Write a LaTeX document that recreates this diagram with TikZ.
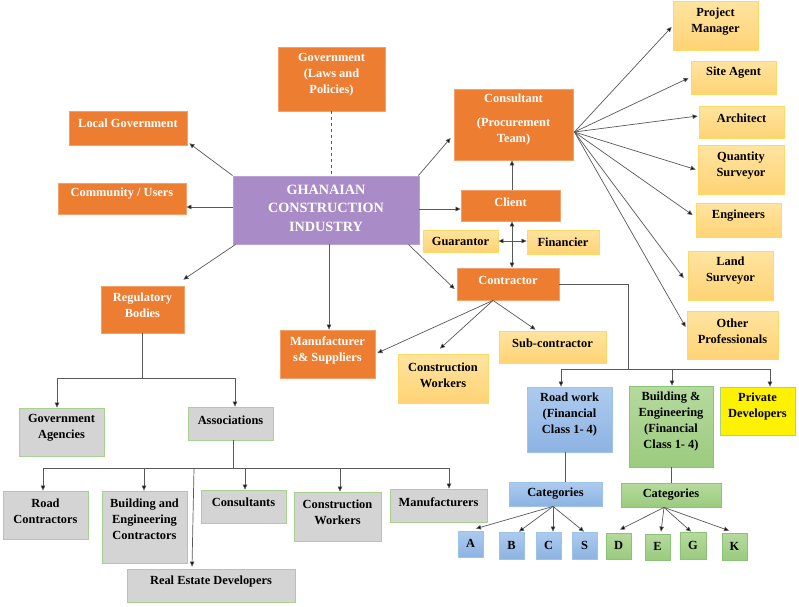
\documentclass[tikz,border=0pt]{standalone}
\usepackage{fontspec}
\setmainfont{Liberation Serif}
\usetikzlibrary{arrows.meta,fit,calc}
\definecolor{orfill}{HTML}{ED7D31}
\definecolor{ordraw}{HTML}{F4A06A}
\definecolor{ytop}{HTML}{FFE4A0}
\definecolor{ybot}{HTML}{FFD375}
\definecolor{ydraw}{HTML}{FFD966}
\definecolor{gfill}{HTML}{D4D4D4}
\definecolor{gdraw}{HTML}{A9D18E}
\definecolor{btop}{HTML}{ADCBEF}
\definecolor{bbot}{HTML}{8DB3E2}
\definecolor{bdraw}{HTML}{9DC3E6}
\definecolor{ntop}{HTML}{B6DA9E}
\definecolor{nbot}{HTML}{9BCB7E}
\definecolor{ndraw}{HTML}{8CC17A}
\definecolor{purp}{HTML}{A88BC7}
\definecolor{linec}{HTML}{595959}
\tikzset{
  orbox/.style={draw=ordraw,fill=orfill,line width=0.8pt},
  ybox/.style={draw=ydraw,top color=ytop,bottom color=ybot,line width=0.8pt},
  gbox/.style={draw=gdraw,fill=gfill,line width=0.8pt},
  bbox/.style={draw=bdraw,top color=btop,bottom color=bbot,line width=0.8pt},
  nbox/.style={draw=ndraw,top color=ntop,bottom color=nbot,line width=0.8pt},
  pbox/.style={draw=purp!80!white,fill=purp,line width=0.8pt},
  pvbox/.style={draw=gdraw,fill=yellow,line width=0.8pt},
  wtxt/.style={text=white,font=\bfseries\fontsize{12.4}{16}\selectfont,align=center,inner sep=0pt},
  ktxt/.style={text=black,font=\bfseries\fontsize{12.4}{16}\selectfont,align=center,inner sep=0pt},
  arr/.style={draw=linec,line width=0.7pt,-{Triangle[length=5pt,width=4.5pt,fill=black]}},
  darr/.style={draw=linec,line width=0.7pt,{Triangle[length=5pt,width=4.5pt,fill=black]}-{Triangle[length=5pt,width=4.5pt,fill=black]}},
  ln/.style={draw=linec,line width=0.7pt},
}
% style, name, x1, y1, x2, y2, text-dy (px up), text style, text
\newcommand\mkbox[9]{%
  \node[#1,fit={(#3,#4) (#5,#6)},inner sep=0pt] (#2) {};
  \node[#8] (#2t) at ([yshift=#7pt]#2.center) {#9};
}
\begin{document}
\begin{tikzpicture}[x=1pt,y=-1pt]
\useasboundingbox[fill=white] (0,0) rectangle (799,606);

% top-left / centre
\mkbox{orbox}{gov}{278}{47}{385}{111}{4}{wtxt}{Government\\(Laws and\\Policies)}
\mkbox{orbox}{lg}{69}{111}{187}{145}{5}{wtxt}{Local Government}
\mkbox{orbox}{comm}{58}{183}{186}{214}{4.5}{wtxt}{Community / Users}
\node[pbox,fit={(233,176) (419,244)},inner sep=0pt] (cen) {};
\node[text=white,font=\bfseries\fontsize{14.2}{18.5}\selectfont,align=center,inner sep=0pt] (cent) at ([yshift=2pt]cen.center) {GHANAIAN\\CONSTRUCTION\\INDUSTRY};

% consultant side
\mkbox{orbox}{cons}{454}{89}{573}{160}{4.5}{wtxt}{Consultant\\[8pt](Procurement\\Team)}
\mkbox{orbox}{client}{461}{190}{560}{221}{3.5}{wtxt}{Client}
\mkbox{ybox}{guar}{423}{230}{498}{252}{0}{ktxt}{Guarantor}
\mkbox{ybox}{fin}{527}{230}{599}{254}{0}{ktxt}{Financier}
\mkbox{orbox}{contr}{457}{268}{559}{300}{4}{wtxt}{Contractor}

% professionals
\mkbox{ybox}{pm}{673}{1}{758}{50}{3.5}{ktxt}{Project\\Manager}
\mkbox{ybox}{sa}{691}{61}{776}{94}{4.5}{ktxt}{Site Agent}
\mkbox{ybox}{arch}{699}{106}{784}{138}{4}{ktxt}{Architect}
\mkbox{ybox}{qs}{698}{145}{784}{194}{3.5}{ktxt}{Quantity\\Surveyor}
\mkbox{ybox}{eng}{696}{203}{781}{237}{4}{ktxt}{Engineers}
\mkbox{ybox}{ls}{688}{251}{773}{300}{4.5}{ktxt}{Land\\Surveyor}
\mkbox{ybox}{op}{687}{311}{778}{359}{4}{ktxt}{Other\\Professionals}

% contractor children
\mkbox{orbox}{mfs}{280}{330}{375}{378}{4}{wtxt}{Manufacturer\\s\& Suppliers}
\mkbox{ybox}{cw}{398}{354}{488}{403}{3.5}{ktxt}{Construction\\Workers}
\mkbox{ybox}{sub}{499}{331}{606}{363}{4}{ktxt}{Sub-contractor}

% financial classes
\mkbox{bbox}{road}{527}{387}{612}{452}{4.5}{ktxt}{Road work\\(Financial\\Class 1- 4)}
\mkbox{nbox}{bldg}{629}{386}{713}{467}{4.5}{ktxt}{Building \&\\Engineering\\(Financial\\Class 1- 4)}
\mkbox{pvbox}{priv}{720}{387}{795}{435}{4}{ktxt}{Private\\Developers}
\mkbox{bbox}{catb}{509}{482}{602}{506}{0.5}{ktxt}{Categories}
\mkbox{nbox}{catg}{621}{483}{721}{507}{0.5}{ktxt}{Categories}
\mkbox{bbox}{ca}{458}{531}{483}{557}{0.5}{ktxt}{A}
\mkbox{bbox}{cb}{499}{532}{524}{559}{0.5}{ktxt}{B}
\mkbox{bbox}{cc}{536}{532}{561}{559}{0.5}{ktxt}{C}
\mkbox{bbox}{cs}{572}{532}{597}{559}{0.5}{ktxt}{S}
\mkbox{nbox}{cd}{606}{533}{631}{559}{0.5}{ktxt}{D}
\mkbox{nbox}{ce}{645}{534}{670}{560}{0.5}{ktxt}{E}
\mkbox{nbox}{cg}{680}{532}{706}{559}{0.5}{ktxt}{G}
\mkbox{nbox}{ck}{722}{533}{747}{560}{0.5}{ktxt}{K}

% regulatory side
\mkbox{orbox}{reg}{101}{286}{184}{333}{4.5}{wtxt}{Regulatory\\Bodies}
\mkbox{gbox}{ga}{19}{408}{104}{456}{4}{ktxt}{Government\\Agencies}
\mkbox{gbox}{assoc}{188}{407}{273}{440}{3.5}{ktxt}{Associations}
\mkbox{gbox}{rc}{3}{491}{88}{539}{4}{ktxt}{Road\\Contractors}
\mkbox{gbox}{bec}{102}{491}{187}{563}{8}{ktxt}{Building and\\Engineering\\Contractors}
\mkbox{gbox}{cons2}{201}{490}{286}{523}{4}{ktxt}{Consultants}
\mkbox{gbox}{cw2}{294}{492}{381}{541}{4.5}{ktxt}{Construction\\Workers}
\mkbox{gbox}{mfr}{390}{489}{487}{522}{3.5}{ktxt}{Manufacturers}
\mkbox{gbox}{red}{127}{569}{295}{602}{3.5}{ktxt}{Real Estate Developers}

% ---------- connectors ----------
\draw[ln,dashed] (gov.south) -- (gov.south |- cen.north);
\draw[arr] (cen.north west) -- ([xshift=2pt,yshift=2pt]lg.south east);
\draw[arr] ([yshift=3pt]cen.west) -- ([yshift=3pt]cen.west -| comm.east);
\draw[arr] ([xshift=-1pt]cen.north east) -- ([xshift=-3pt,yshift=-13.5pt]cons.west);
\draw[arr] ([yshift=1pt]cen.east) -- ([yshift=1pt]cen.east -| client.west);
\draw[arr] ([xshift=1.5pt]client.north) -- ([xshift=1.5pt]client.north |- cons.south);
\draw[darr] ([xshift=1.5pt]client.south) -- ([xshift=1.5pt]client.south |- contr.north);
\draw[darr] (guar.east) -- (guar.east -| fin.west);
\draw[arr] ([xshift=-11pt]cen.south east) -- ([xshift=-2pt,yshift=-5pt]contr.west);
\draw[arr] ([xshift=3pt]cen.south west) -- ([xshift=-1pt,yshift=6pt]reg.north east);
\draw[arr] ([xshift=1.5pt]mfs.north |- cen.south) -- ([xshift=1.5pt]mfs.north);

% consultant fan
\coordinate (cfan) at ([xshift=1pt,yshift=-7.5pt]cons.east);
\draw[arr] (cfan) -- ([xshift=-1pt,yshift=-1.5pt]pm.west);
\draw[arr] (cfan) -- ([xshift=-2pt,yshift=-0.5pt]sa.west);
\draw[arr] (cfan) -- ([xshift=-1pt,yshift=6pt]arch.west);
\draw[arr] (cfan) -- ([xshift=-2pt]qs.west);
\draw[arr] (cfan) -- ([xshift=-3pt,yshift=5pt]eng.west);
\draw[arr] (cfan) -- ([xshift=-4pt,yshift=-2.5pt]ls.west);
\draw[arr] (cfan) -- ([xshift=-1pt,yshift=8pt]op.west);

% contractor fan
\coordinate (kfan) at ([xshift=-15pt]contr.south);
\draw[arr] (kfan) -- ([xshift=2pt,yshift=1pt]mfs.east);
\draw[arr] (kfan) -- ([xshift=-3pt,yshift=5pt]cw.north);
\draw[arr] (kfan) -- ([xshift=-17pt,yshift=1pt]sub.north);

% contractor branches
\coordinate (cj) at (628,369);
\draw[ln] (contr.east) -| (cj);
\draw[arr] (cj) -| ([xshift=-8.5pt]road.north);
\draw[arr] (cj) -| ([xshift=1pt]bldg.north);
\draw[arr] (cj) -| ([xshift=12.5pt]priv.north);
\draw[ln] ([xshift=-4.5pt]road.south) -- ([xshift=-4.5pt]road.south |- catb.north);
\draw[ln] (bldg.south) -- (bldg.south |- catg.north);

% category fans
\coordinate (bfan) at ([xshift=-2.5pt]catb.south);
\draw[arr] (bfan) -- ([xshift=5.5pt,yshift=2pt]ca.north);
\draw[arr] (bfan) -- ([xshift=7.5pt]cb.north);
\draw[arr] (bfan) -- ([xshift=4.5pt]cc.north);
\draw[arr] (bfan) -- ([xshift=-0.5pt]cs.north);
\coordinate (gfan) at ([xshift=-7pt]catg.south);
\draw[arr] (gfan) -- ([xshift=1.5pt,yshift=3pt]cd.north);
\draw[arr] (gfan) -- ([xshift=3.5pt,yshift=2pt]ce.north);
\draw[arr] (gfan) -- ([xshift=-2pt]cg.north);
\draw[arr] (gfan) -- ([xshift=-5.5pt,yshift=2pt]ck.north);

% regulatory tree
\coordinate (rj) at ([yshift=-45pt]reg.south);
\draw[ln] (reg.south) -- (rj);
\draw[arr] (rj) -| ([xshift=-4.5pt]ga.north);
\draw[arr] (rj) -| ([xshift=4.5pt]assoc.north);

% associations tree
\coordinate (aj) at ([xshift=2.5pt,yshift=-28pt]assoc.south);
\draw[ln] ([xshift=2.5pt]assoc.south) -- (aj);
\draw[arr] (aj) -| ([xshift=-2.5pt]rc.north);
\draw[arr] (aj) -| ([xshift=-0.5pt]bec.north);
\draw[arr] (aj) -| ([xshift=1.5pt]cons2.north);
\draw[arr] (aj) -| ([xshift=2.5pt]cw2.north);
\draw[arr] (aj) -| ([xshift=10.5pt]mfr.north);
\draw[arr] (aj -| 194,0) -- ([xshift=-19pt,yshift=2pt]red.north);
\end{tikzpicture}
\end{document}
